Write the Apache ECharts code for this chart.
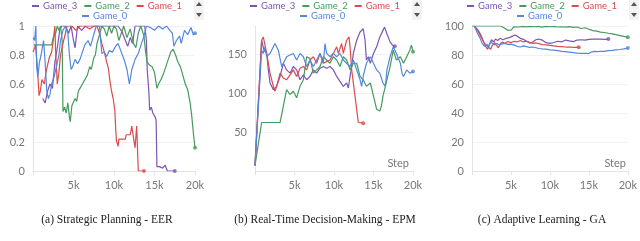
<!DOCTYPE html>
<html><head><meta charset="utf-8">
<script src="https://cdn.jsdelivr.net/npm/echarts@6/dist/echarts.min.js"></script>
<style>html,body{margin:0;padding:0;background:#fff}#c{width:640px;height:241px}</style>
</head><body><div id="c"></div><script>
// ---- data (steps in thousands) ----
const seriesNames = ['Game_3', 'Game_2', 'Game_1', 'Game_0'];
const seriesColors = ['#7D54B2', '#479A5F', '#DA4C4C', '#5387DD'];
const captions = ['(a) Strategic Planning - EER', '(b) Real-Time Decision-Making - EPM', '(c) Adaptive Learning - GA'];
const xTickValues = [5, 10, 15, 20];

// (a) Strategic Planning - EER
const eer_game3 = [[1.2,0.5],[1.5,0.47],[1.8,0.55],[2.1,0.6],[2.4,0.57],[2.7,0.75],[3.0,0.85],[3.3,0.97],[3.5,1.0],[4.0,1.0],[4.4,0.95],[4.7,1.0],[5.0,0.9],[5.2,0.85],[5.5,1.0],[6.0,0.97],[6.5,1.0],[7.5,1.0],[8.5,1.0],[9.5,1.0],[10.5,1.0],[11.0,0.96],[11.4,0.9],[11.7,0.86],[12.0,0.92],[12.3,0.88],[12.6,1.0],[13.2,1.0],[13.8,1.0],[14.0,0.9],[14.1,0.7],[14.3,0.55],[14.4,0.42],[14.6,0.44],[14.8,0.40],[15.0,0.41],[15.1,0.37],[15.2,0.35],[15.3,0.03],[15.6,0.03],[15.8,0.04],[16.0,0.02],[16.3,0.04],[16.5,0.04],[16.6,0.0],[17.5,0.0]];
const eer_game2 = [[0.1,0.87],[0.6,0.87],[1.2,0.87],[1.8,0.87],[2.3,0.87],[2.5,0.92],[2.8,0.95],[3.0,1.0],[3.2,0.97],[3.4,1.0],[3.6,0.9],[3.7,0.41],[3.9,0.44],[4.1,0.40],[4.3,0.47],[4.5,0.37],[4.6,0.34],[4.8,0.45],[5.0,0.44],[5.2,0.5],[5.4,0.48],[5.6,0.55],[5.8,0.57],[6.1,0.6],[6.4,0.63],[6.7,0.66],[7.0,0.72],[7.2,0.7],[7.5,0.78],[7.7,0.8],[7.9,0.88],[8.1,0.92],[8.3,0.96],[8.5,1.0],[8.8,0.98],[9.1,0.93],[9.4,1.0],[9.7,0.95],[10.0,1.0],[10.3,0.98],[10.6,0.9],[10.9,0.95],[11.2,1.0],[11.6,0.92],[12.0,0.98],[12.4,0.88],[12.7,0.85],[13.0,0.95],[13.3,1.0],[13.7,0.93],[13.9,0.82],[14.1,0.75],[14.4,0.73],[14.7,0.72],[15.0,0.68],[15.3,0.57],[15.5,0.6],[15.8,0.63],[16.1,0.67],[16.4,0.72],[16.7,0.77],[17.0,0.82],[17.3,0.84],[17.6,0.8],[17.9,0.75],[18.2,0.72],[18.5,0.66],[18.8,0.6],[19.1,0.56],[19.4,0.47],[19.6,0.38],[19.8,0.26],[20.0,0.16]];
const eer_game1 = [[0.0,0.82],[0.2,0.85],[0.3,0.87],[0.5,0.75],[0.75,0.52],[0.9,0.55],[1.1,0.63],[1.4,0.6],[1.6,0.68],[1.8,0.73],[2.0,0.78],[2.3,0.82],[2.5,0.9],[2.7,1.0],[2.8,0.82],[3.0,0.6],[3.2,0.68],[3.4,0.8],[3.7,0.88],[4.0,0.95],[4.2,1.0],[4.8,1.0],[5.3,0.97],[5.8,1.0],[6.4,1.0],[7.0,0.98],[7.5,1.0],[7.9,1.0],[8.2,0.95],[8.5,0.88],[8.7,0.84],[8.9,0.8],[9.1,0.75],[9.3,0.71],[9.5,0.62],[9.7,0.55],[9.9,0.5],[10.1,0.42],[10.2,0.3],[10.3,0.21],[10.5,0.17],[10.6,0.22],[11.0,0.22],[11.4,0.22],[11.5,0.25],[12.0,0.25],[12.2,0.31],[12.3,0.27],[12.5,0.27],[12.6,0.16],[12.7,0.16],[12.8,0.31],[12.9,0.31],[13.0,0.0],[13.7,0.0]];
const eer_game0 = [[0.0,0.92],[0.2,0.9],[0.35,1.0],[0.45,0.72],[0.6,0.65],[0.8,0.75],[1.0,0.8],[1.3,0.9],[1.5,0.75],[1.7,0.55],[1.9,0.5],[2.1,0.53],[2.3,0.6],[2.6,0.65],[2.9,0.72],[3.2,0.8],[3.4,0.9],[3.7,0.97],[4.0,1.0],[4.3,0.95],[4.5,0.8],[4.7,0.7],[4.9,0.72],[5.2,0.77],[5.5,0.74],[5.8,0.77],[6.1,0.82],[6.4,0.87],[6.8,0.9],[7.1,0.86],[7.4,0.92],[7.8,1.0],[8.2,1.0],[8.5,0.81],[8.8,0.82],[9.1,0.79],[9.4,0.83],[9.8,0.82],[10.2,0.86],[10.5,0.88],[10.9,0.82],[11.3,0.76],[11.6,0.7],[11.9,0.6],[12.2,0.7],[12.6,0.77],[13.0,0.81],[13.4,0.88],[13.7,0.93],[14.0,1.0],[14.5,0.99],[15.0,0.97],[15.5,1.0],[16.0,0.98],[16.5,1.0],[16.9,0.97],[17.2,0.95],[17.4,0.86],[17.7,0.9],[18.1,0.93],[18.3,0.88],[18.7,0.97],[19.1,0.94],[19.5,0.99],[19.8,0.94],[20.0,0.95]];

// (b) Real-Time Decision-Making - EPM
const epm_game3 = [[0,7],[0.84,167.7],[1.14,155],[1.48,150.8],[1.69,129.7],[1.9,112.9],[2.32,104.4],[2.74,108.6],[3.17,121.3],[3.59,138.2],[4.0,129.7],[4.43,125.5],[4.85,134],[5.27,129.7],[5.7,117],[6.12,123.4],[6.54,117],[6.96,121.3],[7.39,129.7],[7.8,125.5],[8.23,131.9],[8.65,134],[9.07,131.9],[9.5,134],[9.92,129.7],[10.34,121.3],[10.76,115],[11.18,108.6],[11.6,112.9],[11.82,106.5],[12.03,121.3],[12.24,134],[12.45,150.8],[12.87,167.7],[13.3,178.3],[13.7,182.5],[13.93,167.7],[14.1,142.4],[14.35,146.6],[14.6,138.2],[15.0,150.8],[15.4,159.3],[15.8,172],[16.2,180.4],[16.4,184.6],[16.7,176],[17.1,165.6],[17.4,161.4],[17.7,160]];
const epm_game2 = [[0,7],[0.84,62.2],[1.5,62.2],[2.3,62.2],[3.17,62.2],[4.0,104.4],[4.43,98.1],[4.85,102.3],[5.27,93.9],[5.7,108.6],[6.12,117],[6.54,146.6],[6.96,144.5],[7.39,125.5],[7.8,129.7],[8.23,134],[8.65,146.6],[9.07,142.4],[9.5,138.2],[9.92,146.6],[10.34,142.4],[10.76,134],[11.18,146.6],[11.6,142.4],[12.03,129.7],[12.45,138.2],[12.87,138.2],[13.3,121.3],[13.7,117],[14.1,108.6],[14.6,112.9],[15.0,96],[15.4,79.1],[15.8,77],[16.0,83.3],[16.2,96],[16.7,117],[17.1,134],[17.5,155],[17.9,142.4],[18.4,146.6],[18.8,138.2],[19.2,146.6],[19.6,155],[19.8,161.4],[20.0,153]];
const epm_game1 = [[0,7],[0.84,167.7],[1.05,172],[1.48,151],[1.9,125.5],[2.32,108.6],[2.53,102.3],[2.74,108.6],[3.17,125.5],[3.59,119.2],[4.0,117],[4.43,123.4],[4.85,129.7],[5.27,121.3],[5.7,131.9],[6.12,134],[6.54,129.7],[6.96,142.4],[7.39,146.6],[7.8,138.2],[8.23,150.8],[8.65,138.2],[9.07,140.3],[9.5,142.4],[9.92,150.8],[10.34,159.3],[10.55,150.8],[10.97,163.5],[11.18,150.8],[11.6,167.7],[11.9,172],[12.03,159.3],[12.24,129.7],[12.66,96],[13.08,62.2],[13.7,61.4]];
const epm_game0 = [[0,7],[0.84,155],[1.05,150.8],[1.27,159.3],[1.48,146.6],[1.9,150.8],[2.53,163.5],[2.95,155],[3.38,134],[3.59,138.2],[4.0,146.6],[4.43,148.7],[4.85,150.8],[5.27,142.4],[5.7,150.8],[6.12,146.6],[6.54,134],[6.96,142.4],[7.39,134],[7.8,142.4],[8.23,150.8],[8.65,138.2],[8.86,163.5],[9.07,150.8],[9.5,146.6],[9.92,150.8],[10.34,146.6],[10.76,150.8],[11.18,142.4],[11.6,138.2],[12.03,134],[12.45,142.4],[12.87,129.7],[13.3,117],[13.5,108.6],[13.7,121.3],[14.1,138.2],[14.6,146.6],[15.0,138.2],[15.4,129.7],[15.8,125.5],[16.2,112.9],[16.5,108.6],[16.7,129.7],[17.1,146.6],[17.5,159.3],[17.9,150.8],[18.4,138.2],[18.6,125.5],[18.8,121.3],[19.2,129.7],[19.6,125.5],[20.0,127.6]];

// (c) Adaptive Learning - GA
const ga_game3 = [[0.3,100],[0.8,97],[1.2,93],[1.5,89],[1.8,85.5],[2.0,84],[2.2,86.5],[2.5,90.5],[2.8,89],[3.0,91],[3.3,90],[3.6,91.5],[4.0,90.5],[4.4,91.5],[4.8,92],[5.2,93],[5.5,93.8],[5.8,93],[6.2,91.5],[6.6,90.8],[7.0,89.5],[7.4,88.2],[7.8,89],[8.2,90.5],[8.6,91],[9.0,90.3],[9.5,88.5],[10.0,88],[10.5,88.6],[11.0,89.5],[11.5,89],[12.0,90.3],[12.5,89.7],[13.0,89.2],[13.5,90.3],[14,90.5],[14.5,90.2],[15,90.8],[15.5,91],[16,91],[16.5,91],[17,90.8],[17.5,91]];
const ga_game2 = [[0,100],[1.5,100],[3.0,100],[3.7,100],[4.2,98.5],[4.6,97],[5.0,97.2],[5.2,98.5],[5.4,99.5],[6,99.3],[6.5,99.8],[7,99.4],[7.5,99.8],[8,99.5],[8.5,99.7],[9,99.2],[9.5,99.8],[10,99.5],[10.5,99.8],[11,99.3],[11.5,99.5],[12,99.2],[12.5,99.6],[13,99],[13.5,99.3],[14,98.3],[14.5,98.8],[15,97.8],[15.5,96.8],[16,96.5],[16.5,95.8],[17,95.5],[17.5,95],[18,94.6],[18.5,94],[19,93.4],[19.5,92.8],[20,92.3]];
const ga_game1 = [[0.3,100],[0.8,96],[1.2,92],[1.6,88],[2.0,86],[2.4,84],[2.6,86.5],[2.9,88.5],[3.1,87],[3.4,85],[3.6,87.5],[3.9,89],[4.2,88],[4.6,89.3],[5.0,88.5],[5.4,89.5],[5.8,89],[6.2,90],[6.6,89],[7.0,89.5],[7.4,88.8],[7.8,88],[8.2,88.3],[8.6,87.8],[9.0,87.2],[9.5,87],[10,86.7],[10.5,86.3],[11,86],[11.5,85.8],[12,85.5],[12.5,85.5],[13,85.3],[13.7,85.3]];
const ga_game0 = [[0.3,100],[0.7,95],[1.0,92],[1.3,88],[1.6,86],[1.9,87.5],[2.1,85.5],[2.4,89.5],[2.6,88],[2.9,87],[3.2,88],[3.5,86.8],[3.8,87.5],[4.2,88],[4.6,87.3],[5.0,87.5],[5.4,86.8],[5.8,86],[6.2,85.5],[6.6,86.3],[7.0,85.8],[7.4,85.2],[7.8,85.5],[8.2,85],[8.6,84.5],[9.0,84.2],[9.5,84],[10,83.5],[10.5,83.3],[11,83],[11.5,82.5],[12,82.3],[12.5,82],[13,81.6],[13.5,81.3],[14,81.1],[14.5,81.2],[15,81],[15.3,82],[15.7,82.5],[16.1,82.3],[16.5,82.6],[17,82.5],[17.5,83],[18,83.2],[18.5,83.5],[19,83.8],[19.5,84.2],[20,84.8]];

const panels = [
  {data: [eer_game3, eer_game2, eer_game1, eer_game0], yMin: 0, yMax: 1, yInterval: 0.2},
  {data: [epm_game3, epm_game2, epm_game1, epm_game0], yMin: 0, yMax: 186, yInterval: 50},
  {data: [ga_game3, ga_game2, ga_game1, ga_game0], yMin: 0, yMax: 100, yInterval: 20}
];

// ---- layout ----
const FONT = 'Lato, "Noto Sans", sans-serif';
const gridBoxes = [
  {left: 33, top: 26, width: 162, height: 145},
  {left: 255, top: 26, width: 158, height: 145},
  {left: 472, top: 26, width: 158, height: 145}
];
const legendLefts = [[32, 82], [250, 300], [467, 517]];
const captionCenters = [107, 325, 542];
const arrowX = [199, 417, 634];

const grid = gridBoxes.map(g => Object.assign({containLabel: false}, g));
const xAxis = panels.map((p, i) => ({
  type: 'value', gridIndex: i, min: 0, max: 20, interval: 5,
  axisLine: {lineStyle: {color: '#e3e3e3', width: 1}},
  axisTick: {show: true, length: 4, lineStyle: {color: '#e3e3e3'}},
  splitLine: {show: false},
  axisLabel: {color: '#777', fontSize: 11, fontFamily: FONT, margin: 9,
    formatter: v => (xTickValues.indexOf(v) >= 0 ? v + 'k' : '')}
}));
const yAxis = panels.map((p, i) => ({
  type: 'value', gridIndex: i, min: p.yMin, max: p.yMax, interval: p.yInterval,
  axisLine: {show: true, lineStyle: {color: '#e3e3e3', width: 1}},
  axisTick: {show: false},
  splitLine: {show: true, showMaxLine: i !== 1, lineStyle: {color: '#f1f1f1', width: 1}},
  axisLabel: {color: '#777', fontSize: 11, fontFamily: FONT, margin: 8,
    formatter: v => {
      if (i === 1) return (v > 0 && v % 50 === 0) ? String(v) : '';
      return String(Math.round(v * 10) / 10);
    }}
}));

const series = [];
panels.forEach((p, i) => {
  p.data.forEach((d, k) => {
    series.push({
      type: 'line', name: seriesNames[k], xAxisIndex: i, yAxisIndex: i,
      data: d, showSymbol: false, symbol: 'none', clip: true,
      lineStyle: {color: seriesColors[k], width: 1.2},
      itemStyle: {color: seriesColors[k]},
      emphasis: {disabled: true}, z: 2 + k
    });
    series.push({
      type: 'scatter', name: seriesNames[k] + '_end', xAxisIndex: i, yAxisIndex: i,
      data: [d[d.length - 1]], symbol: 'circle', symbolSize: 4,
      itemStyle: {color: seriesColors[k]}, z: 6, silent: true
    });
  });
});

const legend = [];
legendLefts.forEach(([l1, l2]) => {
  const mk = (names, left, top) => ({
    left: left, top: top, padding: 0, itemGap: 7, itemWidth: 7, itemHeight: 2,
    icon: 'rect', selectedMode: false, orient: 'horizontal',
    textStyle: {fontSize: 9.5, fontFamily: FONT, padding: [0, 0, 0, -1]},
    data: names.map(n => ({name: n, textStyle: {color: seriesColors[seriesNames.indexOf(n)]}}))
  });
  legend.push(mk(seriesNames.slice(0, 3), l1, 1));
  legend.push(mk(seriesNames.slice(3), l2, 11));
});

const graphic = [];
captions.forEach((t, i) => {
  graphic.push({type: 'text', x: captionCenters[i], y: 220,
    style: {text: t, font: '11.5px "Liberation Serif", "Times New Roman", serif', fill: '#222', align: 'center', verticalAlign: 'middle'}});
});
[1, 2].forEach(i => {
  const g = gridBoxes[i];
  graphic.push({type: 'text', x: g.left + g.width - 4, y: 163,
    style: {text: 'Step', font: '11px ' + FONT, fill: '#777', align: 'right', verticalAlign: 'middle'}});
});
arrowX.forEach(x => {
  graphic.push({type: 'rect', shape: {x: x - 5, y: 0, width: 10, height: 20}, style: {fill: '#f3f3f3'}});
  graphic.push({type: 'polygon', shape: {points: [[x - 3, 6], [x + 3, 6], [x, 2]]}, style: {fill: '#555'}});
  graphic.push({type: 'polygon', shape: {points: [[x - 3, 13], [x + 3, 13], [x, 17]]}, style: {fill: '#555'}});
});

const chart = echarts.init(document.getElementById('c'), null, {renderer: 'canvas'});
chart.setOption({
  animation: false, backgroundColor: '#fff',
  grid, xAxis, yAxis, series, legend, graphic
});
</script></body></html>
